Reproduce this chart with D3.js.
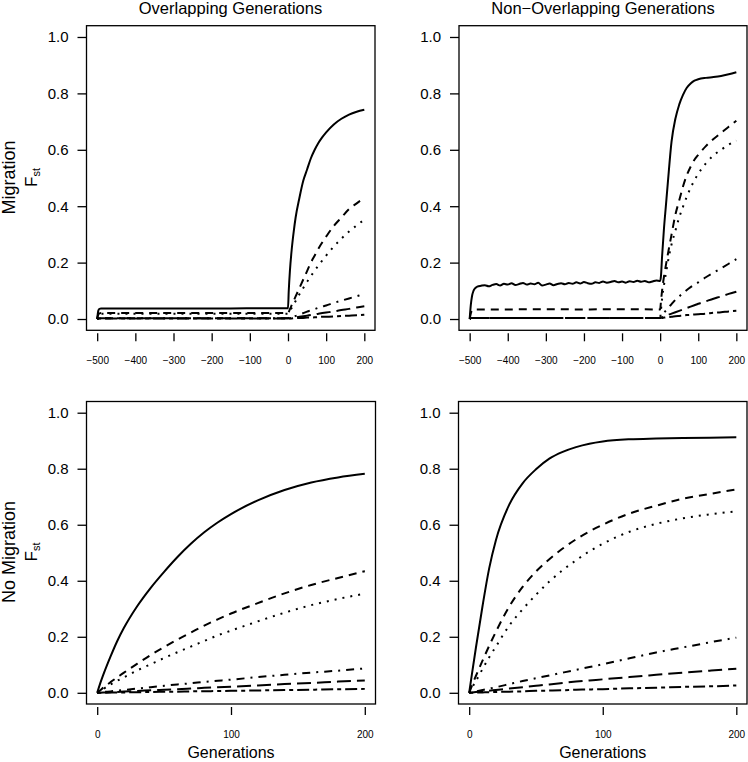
<!DOCTYPE html>
<html><head><meta charset="utf-8">
<script src="https://cdn.jsdelivr.net/npm/d3@7/dist/d3.min.js"></script>
<style>body{margin:0;background:#fff}svg{display:block;font-family:"Liberation Sans",Arial,sans-serif}</style>
</head><body>
<script>
// ---------------- DATA ----------------
const columnTitles = ["Overlapping Generations", "Non\u2212Overlapping Generations"];
const rowLabels = ["Migration", "No Migration"];
const lineTypes = ["solid", "dashed", "dotted", "dotdash", "longdash", "twodash"];

const topXTicks = [-500, -400, -300, -200, -100, 0, 100, 200];
const topXTickLabels = ["\u2212500", "\u2212400", "\u2212300", "\u2212200", "\u2212100", "0", "100", "200"];
const bottomXTicks = [0, 100, 200];
const bottomXTickLabels = ["0", "100", "200"];
const yTicks = [0, 0.2, 0.4, 0.6, 0.8, 1.0];
const yTickLabels = ["0.0", "0.2", "0.4", "0.6", "0.8", "1.0"];

const gensPost = [0, 2, 5, 10, 15, 20, 30, 40, 50, 60, 70, 80, 90, 100, 120, 140, 160, 180, 200];
const gensPre = [-500, -497, -494, -490, -400, -300, -200, -100, 0];
const gensPreNoisy = [-500, -497, -494, -490, -485, -480, -470, -460, -450, -440, -430, -420, -410, -400,
  -390, -380, -370, -360, -350, -340, -330, -320, -310, -300, -290, -280, -270, -260, -250, -240, -230,
  -220, -210, -200, -190, -180, -170, -160, -150, -140, -130, -120, -110, -100, -90, -80, -70, -60, -50,
  -40, -30, -20, -10, 0];

// Overlapping, migration: before split (gensPre), order = lineTypes
const ovMigPre = [
  [0, 0.030, 0.036, 0.037, 0.037, 0.037, 0.037, 0.038, 0.038],
  [0, 0.016, 0.020, 0.021, 0.021, 0.021, 0.021, 0.021, 0.021],
  [0, 0.015, 0.019, 0.019, 0.019, 0.019, 0.019, 0.019, 0.019],
  [0, 0.002, 0.003, 0.003, 0.003, 0.003, 0.003, 0.003, 0.003],
  [0, 0.002, 0.003, 0.003, 0.003, 0.003, 0.003, 0.003, 0.003],
  [0, 0.001, 0.002, 0.002, 0.002, 0.002, 0.002, 0.002, 0.002]
];
// Overlapping, migration: after split (gensPost)
const ovMigPost = [
  [0.038, 0.10, 0.17, 0.25, 0.31, 0.36, 0.43, 0.49, 0.53, 0.57, 0.60, 0.625, 0.645, 0.662, 0.69, 0.71, 0.725, 0.735, 0.742],
  [0.021, 0.025, 0.035, 0.05, 0.065, 0.08, 0.11, 0.14, 0.17, 0.20, 0.225, 0.25, 0.272, 0.292, 0.33, 0.36, 0.39, 0.41, 0.43],
  [0.019, 0.02, 0.028, 0.04, 0.052, 0.064, 0.088, 0.11, 0.132, 0.152, 0.172, 0.19, 0.208, 0.225, 0.257, 0.285, 0.31, 0.332, 0.352],
  [0.003, 0.004, 0.005, 0.007, 0.009, 0.011, 0.016, 0.021, 0.026, 0.031, 0.035, 0.04, 0.044, 0.048, 0.057, 0.065, 0.073, 0.081, 0.089],
  [0.003, 0.003, 0.003, 0.004, 0.005, 0.006, 0.008, 0.01, 0.012, 0.014, 0.016, 0.019, 0.021, 0.023, 0.027, 0.032, 0.036, 0.041, 0.045],
  [0.002, 0.002, 0.002, 0.002, 0.003, 0.003, 0.004, 0.004, 0.005, 0.005, 0.006, 0.007, 0.008, 0.008, 0.009, 0.011, 0.012, 0.013, 0.015]
];
// Non-overlapping, migration: before split
const nonMigPreSolid = [0, 0.05, 0.08, 0.10, 0.11, 0.115, 0.118, 0.120, 0.116, 0.121, 0.124, 0.119, 0.125, 0.122,
  0.127, 0.121, 0.124, 0.128, 0.122, 0.126, 0.123, 0.129, 0.119, 0.122, 0.126, 0.120, 0.124, 0.127, 0.123,
  0.128, 0.125, 0.130, 0.126, 0.131, 0.127, 0.125, 0.130, 0.128, 0.133, 0.129, 0.131, 0.135, 0.130, 0.133,
  0.129, 0.134, 0.131, 0.136, 0.132, 0.135, 0.130, 0.133, 0.137, 0.135];
const nonMigPreOthers = [
  [0, 0.020, 0.030, 0.034, 0.034, 0.035, 0.034, 0.035, 0.034],
  [0, 0.003, 0.004, 0.004, 0.004, 0.004, 0.004, 0.004, 0.004],
  [0, 0.003, 0.004, 0.004, 0.004, 0.004, 0.004, 0.004, 0.004],
  [0, 0.003, 0.004, 0.004, 0.004, 0.004, 0.004, 0.004, 0.004],
  [0, 0.003, 0.004, 0.004, 0.004, 0.004, 0.004, 0.004, 0.004]
];
const nonMigPost = [
  [0.135, 0.15, 0.22, 0.32, 0.40, 0.48, 0.63, 0.71, 0.76, 0.795, 0.82, 0.835, 0.845, 0.85, 0.855, 0.858, 0.862, 0.868, 0.875],
  [0.034, 0.06, 0.10, 0.15, 0.19, 0.228, 0.30, 0.37, 0.42, 0.47, 0.51, 0.54, 0.565, 0.582, 0.613, 0.638, 0.66, 0.682, 0.703],
  [0.004, 0.03, 0.07, 0.12, 0.16, 0.20, 0.265, 0.313, 0.36, 0.398, 0.434, 0.465, 0.492, 0.515, 0.552, 0.58, 0.60, 0.618, 0.632],
  [0.004, 0.008, 0.014, 0.022, 0.03, 0.038, 0.053, 0.068, 0.08, 0.092, 0.103, 0.113, 0.122, 0.13, 0.148, 0.164, 0.18, 0.196, 0.212],
  [0.004, 0.005, 0.006, 0.009, 0.011, 0.014, 0.019, 0.024, 0.029, 0.034, 0.039, 0.044, 0.049, 0.054, 0.063, 0.072, 0.08, 0.089, 0.097],
  [0.004, 0.004, 0.004, 0.005, 0.006, 0.007, 0.008, 0.01, 0.011, 0.012, 0.014, 0.015, 0.016, 0.017, 0.019, 0.022, 0.024, 0.027, 0.029]
];
// Overlapping, no migration (gensPost)
const ovNoMig = [
  [0, 0.03, 0.07, 0.13, 0.185, 0.232, 0.31, 0.375, 0.432, 0.485, 0.532, 0.573, 0.608, 0.638, 0.687, 0.724, 0.751, 0.769, 0.782],
  [0, 0.008, 0.02, 0.038, 0.055, 0.072, 0.104, 0.135, 0.163, 0.19, 0.215, 0.24, 0.262, 0.283, 0.32, 0.355, 0.385, 0.41, 0.434],
  [0, 0.006, 0.015, 0.03, 0.043, 0.055, 0.08, 0.102, 0.124, 0.145, 0.165, 0.185, 0.205, 0.222, 0.255, 0.286, 0.313, 0.335, 0.354],
  [0, 0.001, 0.003, 0.005, 0.008, 0.01, 0.015, 0.02, 0.025, 0.03, 0.034, 0.039, 0.043, 0.047, 0.056, 0.064, 0.072, 0.079, 0.087],
  [0, 0.0004, 0.001, 0.002, 0.003, 0.0044, 0.0066, 0.009, 0.011, 0.013, 0.015, 0.018, 0.02, 0.022, 0.026, 0.031, 0.035, 0.04, 0.044],
  [0, 0, 0.0003, 0.0007, 0.001, 0.0014, 0.002, 0.003, 0.0035, 0.004, 0.005, 0.0056, 0.0063, 0.007, 0.0084, 0.0098, 0.011, 0.0126, 0.014]
];
// Non-overlapping, no migration (gensPost)
const nonNoMig = [
  [0, 0.065, 0.16, 0.31, 0.445, 0.545, 0.672, 0.748, 0.798, 0.836, 0.86, 0.877, 0.889, 0.897, 0.905, 0.908, 0.91, 0.911, 0.912],
  [0, 0.025, 0.06, 0.115, 0.168, 0.218, 0.308, 0.378, 0.433, 0.477, 0.515, 0.548, 0.576, 0.60, 0.64, 0.668, 0.693, 0.71, 0.726],
  [0, 0.017, 0.042, 0.085, 0.127, 0.165, 0.24, 0.298, 0.35, 0.397, 0.438, 0.473, 0.505, 0.532, 0.575, 0.603, 0.623, 0.637, 0.648],
  [0, 0.002, 0.005, 0.01, 0.015, 0.02, 0.031, 0.042, 0.052, 0.062, 0.072, 0.082, 0.092, 0.102, 0.123, 0.144, 0.162, 0.18, 0.197],
  [0, 0.001, 0.0025, 0.005, 0.0075, 0.01, 0.015, 0.02, 0.025, 0.03, 0.035, 0.04, 0.044, 0.048, 0.056, 0.064, 0.072, 0.079, 0.086],
  [0, 0, 0.001, 0.0015, 0.002, 0.003, 0.004, 0.005, 0.007, 0.008, 0.009, 0.011, 0.012, 0.013, 0.016, 0.018, 0.021, 0.023, 0.026]
];

// ---------------- STYLE ----------------
const dash = {solid: null, dashed: "8,6", dotted: "2,6", dotdash: "2,6,8,6", longdash: "14,6", twodash: "4,4,12,4"};
const W = 748, H = 762;
const fontFam = '"Liberation Sans", Arial, Helvetica, sans-serif';

const svg = d3.select("body").append("svg").attr("width", W).attr("height", H);

function zip(xs, ys) { return xs.map((x, i) => [x, ys[i]]); }

const panels = [
  {x: [86.5, 375], y: [330.3, 25.7], dom: [-528, 228], ticks: topXTicks, labels: topXTickLabels,
   series: lineTypes.map((lt, i) => ({lt, pts: zip(gensPre, ovMigPre[i]).concat(zip(gensPost, ovMigPost[i]).slice(1))}))},
  {x: [459, 747], y: [330.3, 25.7], dom: [-528, 228], ticks: topXTicks, labels: topXTickLabels,
   series: lineTypes.map((lt, i) => ({lt, pts: (i === 0 ? zip(gensPreNoisy, nonMigPreSolid) : zip(gensPre, nonMigPreOthers[i - 1])).concat(zip(gensPost, nonMigPost[i]).slice(1))}))},
  {x: [86.5, 375.5], y: [704, 401.5], dom: [-8, 208], ticks: bottomXTicks, labels: bottomXTickLabels, xlab: "Generations",
   series: lineTypes.map((lt, i) => ({lt, pts: zip(gensPost, ovNoMig[i])}))},
  {x: [458.5, 747], y: [704, 401.5], dom: [-8, 208], ticks: bottomXTicks, labels: bottomXTickLabels, xlab: "Generations",
   series: lineTypes.map((lt, i) => ({lt, pts: zip(gensPost, nonNoMig[i])}))}
];

panels.forEach(p => {
  const xs = d3.scaleLinear().domain(p.dom).range(p.x);
  const ys = d3.scaleLinear().domain([-0.04, 1.04]).range(p.y);
  const g = svg.append("g");
  const clipId = "c" + Math.round(p.x[0]) + "_" + Math.round(p.y[1]);
  svg.append("clipPath").attr("id", clipId).append("rect")
    .attr("x", p.x[0]).attr("y", p.y[1]).attr("width", p.x[1] - p.x[0]).attr("height", p.y[0] - p.y[1]);

  const line = d3.line().x(d => xs(d[0])).y(d => ys(d[1])).curve(d3.curveMonotoneX);
  g.append("g").attr("clip-path", `url(#${clipId})`).selectAll("path").data(p.series).join("path")
    .attr("d", d => line(d.pts)).attr("fill", "none").attr("stroke", "#000")
    .attr("stroke-width", 2).attr("stroke-dasharray", d => dash[d.lt])
    .attr("stroke-linejoin", "round");

  // box
  g.append("rect").attr("x", p.x[0]).attr("y", p.y[1]).attr("width", p.x[1] - p.x[0]).attr("height", p.y[0] - p.y[1])
    .attr("fill", "none").attr("stroke", "#000").attr("stroke-width", 1.3);

  // y axis
  const yAx = d3.axisLeft(ys).tickValues(yTicks).tickFormat((d, i) => yTickLabels[i]).tickSize(9).tickPadding(9);
  const ya = g.append("g").attr("transform", `translate(${p.x[0]},0)`).call(yAx);
  ya.select(".domain").remove();
  ya.selectAll("line").attr("stroke-width", 1.3);
  ya.selectAll("text").attr("font-size", 15).attr("font-family", fontFam).attr("fill", "#000");

  // x axis (offset from box, no axis line)
  const xAx = d3.axisBottom(xs).tickValues(p.ticks).tickFormat((d, i) => p.labels[i]).tickSize(8).tickPadding(16);
  const xa = g.append("g").attr("transform", `translate(0,${p.y[0] + 3})`).call(xAx);
  xa.select(".domain").remove();
  xa.selectAll("line").attr("stroke-width", 1.3);
  xa.selectAll("text").attr("font-size", 10).attr("font-family", fontFam).attr("fill", "#000");

  if (p.xlab) {
    svg.append("text").attr("x", (p.x[0] + p.x[1]) / 2).attr("y", 758)
      .attr("text-anchor", "middle").attr("font-size", 16).attr("font-family", fontFam).text(p.xlab);
  }
});

// column titles
[230.5, 603].forEach((cx, i) => {
  svg.append("text").attr("x", cx).attr("y", 8).attr("dy", "0.35em").attr("text-anchor", "middle")
    .attr("font-size", 16.5).attr("font-family", fontFam).text(columnTitles[i]);
});

// row labels
[177.5, 552].forEach((cy, i) => {
  svg.append("text").attr("transform", `translate(9,${cy}) rotate(-90)`).attr("dy", "0.35em")
    .attr("text-anchor", "middle").attr("font-size", 18).attr("font-family", fontFam).text(rowLabels[i]);
  const t = svg.append("text").attr("transform", `translate(31,${cy}) rotate(-90)`).attr("dy", "0.35em")
    .attr("text-anchor", "middle").attr("font-size", 17).attr("font-family", fontFam);
  t.append("tspan").text("F");
  t.append("tspan").attr("font-size", 11).attr("dy", "0.3em").text("st");
});
</script>
</body></html>
